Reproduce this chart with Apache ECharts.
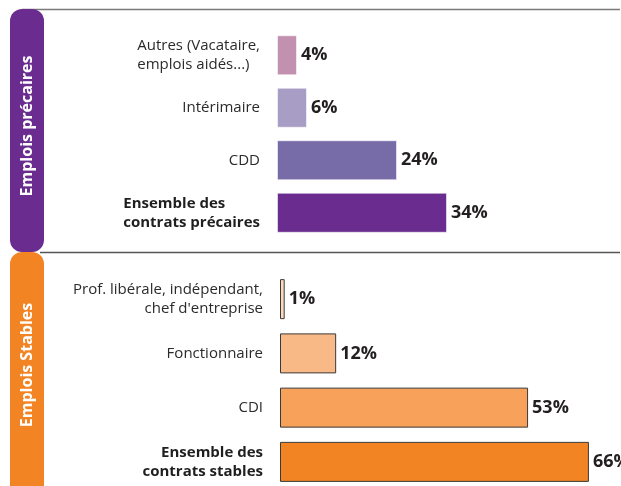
<!DOCTYPE html>
<html>
<head>
<meta charset="utf-8">
<script src="https://cdn.jsdelivr.net/npm/echarts@6/dist/echarts.min.js"></script>
<style>
  html, body { margin: 0; padding: 0; background: #fff; }
  #chart { width: 621px; height: 486px; }
</style>
</head>
<body>
<div id="chart"></div>
<script>
// top group: emplois précaires
const precairesLabels = ['Autres (Vacataire,\nemplois aidés...)', 'Intérimaire', 'CDD', 'Ensemble des\ncontrats précaires'];
const precairesValues = [4, 6, 24, 34];
const precairesColors = ['#c291b0', '#a89dc4', '#776ba8', '#6a2c8e'];

// bottom group: emplois stables
const stablesLabels = ['Prof. libérale, indépendant,\nchef d\'entreprise', 'Fonctionnaire', 'CDI', 'Ensemble des\ncontrats stables'];
const stablesValues = [1, 12, 53, 66];
const stablesColors = ['#fdd9bb', '#f9b986', '#f7a15a', '#f38424'];

const groupTitles = ['Emplois précaires', 'Emplois Stables'];

const font = '"Open Sans", sans-serif';
const textColor = '#2b2b2b';

const chart = echarts.init(document.getElementById('chart'));

// lines of a multi-line label are left aligned in the top block, right aligned below
function catLabel(lineAlign) {
  const base = { fontFamily: font, fontSize: 15, lineHeight: 19, align: lineAlign };
  return {
    color: textColor,
    fontFamily: font,
    fontSize: 15,
    lineHeight: 19,
    margin: 17,
    align: 'right',
    formatter: (v, i) => {
      const key = i === 3 ? 'b' : 'n';
      return v.split('\n').map(l => '{' + key + '|' + l + '}').join('\n');
    },
    rich: {
      n: Object.assign({ color: textColor }, base),
      b: Object.assign({ color: '#1f1f1f', fontWeight: 'bold' }, base)
    }
  };
}

function valueLabel() {
  return {
    show: true,
    position: 'right',
    distance: 4,
    formatter: '{c}%',
    color: '#231f20',
    fontFamily: font,
    fontWeight: 'bold',
    fontSize: 18
  };
}

const option = {
  backgroundColor: '#fff',
  animation: false,
  grid: [
    // 5 px per %
    { left: 277, top: 29, width: 340, height: 210, outerBoundsMode: 'none' },
    // 4.68 px per %
    { left: 280, top: 272, width: 337, height: 217, outerBoundsMode: 'none' }
  ],
  xAxis: [
    { gridIndex: 0, type: 'value', min: 0, max: 68, show: false },
    { gridIndex: 1, type: 'value', min: 0, max: 72, show: false }
  ],
  yAxis: [
    {
      gridIndex: 0,
      type: 'category',
      inverse: true,
      data: precairesLabels,
      axisLine: { show: false },
      axisTick: { show: false },
      axisLabel: catLabel('left')
    },
    {
      gridIndex: 1,
      type: 'category',
      inverse: true,
      data: stablesLabels,
      axisLine: { show: false },
      axisTick: { show: false },
      axisLabel: catLabel('right')
    }
  ],
  series: [
    {
      type: 'bar',
      xAxisIndex: 0,
      yAxisIndex: 0,
      barWidth: 40,
      data: precairesValues.map((v, i) => ({
        value: v,
        itemStyle: { color: precairesColors[i], borderColor: 'rgba(255,255,255,0.55)', borderWidth: 1 }
      })),
      label: valueLabel()
    },
    {
      type: 'bar',
      xAxisIndex: 1,
      yAxisIndex: 1,
      barWidth: 40,
      data: stablesValues.map((v, i) => ({
        value: v,
        itemStyle: { color: stablesColors[i], borderColor: '#3a3a3a', borderWidth: 1 }
      })),
      label: valueLabel()
    }
  ],
  graphic: [
    { type: 'line', shape: { x1: 22, y1: 9.5, x2: 620, y2: 9.5 }, style: { stroke: '#7a7a7a', lineWidth: 1.5 }, z: 1 },
    { type: 'line', shape: { x1: 40, y1: 252.5, x2: 620, y2: 252.5 }, style: { stroke: '#555', lineWidth: 1.5 }, z: 1 },
    { type: 'rect', shape: { x: 10, y: 9, width: 34, height: 243, r: 12 }, style: { fill: '#6a2c8e' }, z: 2 },
    { type: 'rect', shape: { x: 10, y: 252, width: 34, height: 260, r: 12 }, style: { fill: '#f38424' }, z: 2 },
    {
      type: 'text', x: 27, y: 126, rotation: Math.PI / 2, z: 3,
      style: { text: groupTitles[0], fill: '#fff', font: 'bold 16px "Open Sans", sans-serif', textAlign: 'center', textVerticalAlign: 'middle' }
    },
    {
      type: 'text', x: 27, y: 365, rotation: Math.PI / 2, z: 3,
      style: { text: groupTitles[1], fill: '#fff', font: 'bold 16px "Open Sans", sans-serif', textAlign: 'center', textVerticalAlign: 'middle' }
    }
  ]
};

chart.setOption(option);
</script>
</body>
</html>
